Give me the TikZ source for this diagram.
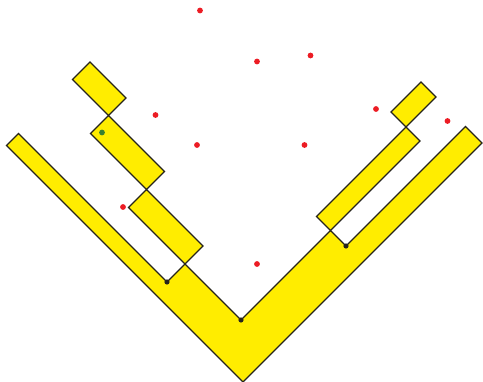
\documentclass[tikz,border=0pt]{standalone}
\usepackage{xcolor}
\usepackage{tikz}
\definecolor{blockyellow}{RGB}{255,237,0}
\definecolor{edgegray}{RGB}{38,36,28}
\definecolor{ptred}{RGB}{236,28,36}
\definecolor{ptgreen}{RGB}{58,128,48}

\begin{document}
\begin{tikzpicture}[x=1pt, y=-1pt]
\tikzset{
  block/.style={draw=edgegray, fill=blockyellow, line width=1.3pt, line join=miter},
  vertex/.style={fill=edgegray},
  sample/.style={fill=ptred},
  query/.style={fill=ptgreen}
}
\useasboundingbox (0,0) rectangle (483,382);
\draw[block] (6.5,145.5) -- (243,382) -- (482,143) -- (465.5,126.5) -- (346,246)
  -- (330.5,230.5) -- (241,320) -- (185,264) -- (167,282) -- (18.5,133.5) -- cycle;
\draw[block] (128.5,207.5) -- (146.5,189.5) -- (203,246) -- (185,264) -- cycle;
\draw[block] (90.5,133.5) -- (108.5,115.5) -- (164.5,171.5) -- (146.5,189.5) -- cycle;
\draw[block] (72.5,79.5) -- (90,62) -- (126,98) -- (108.5,115.5) -- cycle;
\draw[block] (316.5,216.5) -- (406,127) -- (420,141) -- (330.5,230.5) -- cycle;
\draw[block] (391,112) -- (421,82) -- (436,97) -- (406,127) -- cycle;
\fill[vertex] (241,320) circle (2.6);
\fill[vertex] (167,282) circle (2.6);
\fill[vertex] (346,246) circle (2.6);
\fill[query] (102,132.5) circle (2.9);
\foreach \px/\py in {200/10.5, 257/61.5, 310.5/55.5, 155.5/115, 197/145,
  304.5/145, 376/109, 447.5/121, 123/207, 257/264}
  \fill[sample] (\px,\py) circle (2.9);
\end{tikzpicture}
\end{document}
